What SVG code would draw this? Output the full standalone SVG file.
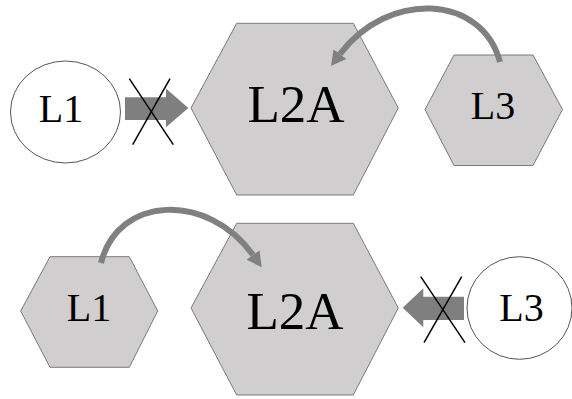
<svg xmlns="http://www.w3.org/2000/svg" width="572" height="399" viewBox="0 0 572 399">
<defs>
<style>
.hex{fill:#d0cecf;stroke:#7a7a7a;stroke-width:1}
.circ{fill:#ffffff;stroke:#555555;stroke-width:1}
.lbl{font-family:"Liberation Serif","Times New Roman",serif;fill:#000;text-anchor:middle}
.big{font-size:53px}
.small{font-size:40px}
.curve{fill:none;stroke:#808080;stroke-width:6}
.block{fill:#7f7f7f}
.cross{stroke:#000;stroke-width:1.5;fill:none}
</style>
<marker id="head" markerUnits="userSpaceOnUse" markerWidth="20" markerHeight="20" refX="0" refY="8" orient="auto" viewBox="0 0 20 20">
<path d="M0,0 L15,8 L0,16 z" fill="#808080"/>
</marker>
</defs>
<g id="top-L1">
<ellipse class="circ" cx="65.5" cy="112" rx="55" ry="51"/>
<text class="lbl small" x="61" y="122">L1</text>
</g>
<g id="top-L2A">
<polygon class="hex" points="191,108 236.7,23.3 353.3,23.3 398.3,108 353.3,195 236.7,195"/>
<text class="lbl big" x="296" y="122">L2A</text>
</g>
<g id="top-L3">
<polygon class="hex" points="425,109.5 454,55 533,55 562.5,109.5 533,165.5 454,165.5"/>
<text class="lbl small" x="493" y="119">L3</text>
</g>
<g id="bottom-L1">
<polygon class="hex" points="20.7,311 50,256.7 129.3,256.7 157.7,311 129.3,367.3 50,367.3"/>
<text class="lbl small" x="89" y="321">L1</text>
</g>
<g id="bottom-L2A">
<polygon class="hex" points="191,308 236.7,223.3 353.3,223.3 398.3,308 353.3,395 236.7,395"/>
<text class="lbl big" x="295" y="329">L2A</text>
</g>
<g id="bottom-L3">
<ellipse class="circ" cx="519.5" cy="308" rx="52.5" ry="51.3"/>
<text class="lbl small" x="521.5" y="321">L3</text>
</g>
<g id="connectors">
<path class="curve" d="M500,62 C482,-6 388,-10 340,54" marker-end="url(#head)"/>
<path class="curve" d="M101,263 C118,195 208,192 253,255" marker-end="url(#head)"/>
<polygon class="block" points="125,97.3 166,97.3 166,88.5 188.3,108 166,127.3 166,120 125,120"/>
<line class="cross" x1="129.3" y1="78.7" x2="173.3" y2="144.7"/>
<line class="cross" x1="170" y1="78.7" x2="132.7" y2="144.7"/>
<polygon class="block" points="464,296.7 423.3,296.7 423.3,288.3 402.7,307.7 423.3,327.3 423.3,320 464,320"/>
<line class="cross" x1="420.7" y1="276.7" x2="465" y2="342.7"/>
<line class="cross" x1="461.7" y1="276.7" x2="424" y2="342.7"/>
</g>
</svg>
